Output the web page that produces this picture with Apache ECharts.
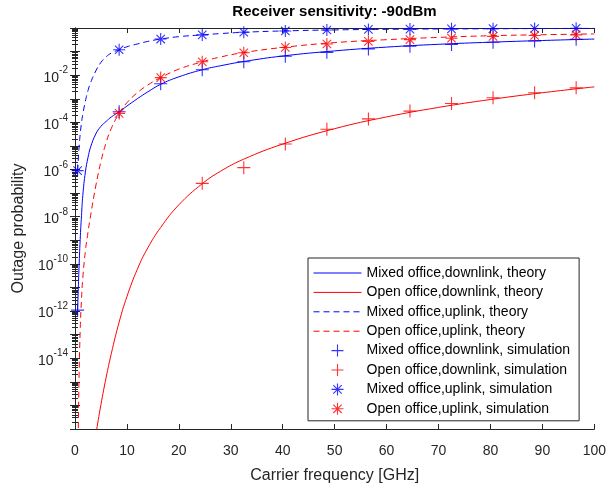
<!DOCTYPE html>
<html><head><meta charset="utf-8">
<script src="https://cdn.jsdelivr.net/npm/echarts@6/dist/echarts.min.js"></script>
<style>html,body{margin:0;padding:0;background:#fff}#c{width:609px;height:489px}</style>
</head><body><div id="c"></div>
<script>
// ---- data ----
const freqTheory = [0.5, 0.75, 1, 1.25, 1.5, 2, 2.5, 3, 4, 5, 6, 7, 8.5, 10, 12, 14, 16.5, 20, 24.5, 28, 32.5, 40, 50, 60, 70, 80, 90, 100];
const mixedDownTheory = [1.0e-12, 5.0e-11, 1.1e-9, 1.1e-8, 7.9e-8, 7.9e-7, 3.2e-6, 8.9e-6, 3.2e-5, 6.8e-5, 1.1e-4, 1.7e-4, 2.8e-4, 4.9e-4, 1.0e-3, 1.95e-3, 4.1e-3, 8.5e-3, 1.7e-2, 2.5e-2, 3.8e-2, 6.5e-2, 0.107, 0.155, 0.204, 0.25, 0.295, 0.34];
const openDownTheory = [null, null, null, null, null, null, null, 2.0e-19, 5.5e-18, 1.1e-16, 1.55e-15, 1.6e-14, 3.4e-13, 4.1e-12, 5.9e-11, 4.7e-10, 3.5e-9, 3.2e-8, 2.5e-7, 8.4e-7, 2.75e-6, 1.2e-5, 5.4e-5, 1.7e-4, 4.3e-4, 9.3e-4, 1.8e-3, 3.2e-3];
const mixedUpTheory = [8.9e-7, 7.1e-6, 3.2e-5, 9.5e-5, 2.2e-4, 7.9e-4, 2.2e-3, 4.8e-3, 1.5e-2, 3.5e-2, 6.0e-2, 8.7e-2, 0.12, 0.16, 0.21, 0.27, 0.34, 0.43, 0.51, 0.58, 0.66, 0.75, 0.83, 0.88, 0.91, 0.93, 0.95, 0.97];
const openUpTheory = [3.2e-20, 6.3e-16, 1.6e-13, 3.2e-12, 2.5e-11, 3.5e-10, 2.2e-9, 1.1e-8, 2.0e-7, 2.2e-6, 1.4e-5, 5.6e-5, 2.4e-4, 6.8e-4, 1.8e-3, 3.8e-3, 7.9e-3, 1.8e-2, 3.7e-2, 5.9e-2, 9.1e-2, 0.15, 0.24, 0.32, 0.40, 0.47, 0.52, 0.56];

const freqSim = [0.5, 8.5, 16.5, 24.5, 32.5, 40.5, 48.5, 56.5, 64.5, 72.5, 80.5, 88.5, 96.5];
const mixedDownSim = [1.1e-12, 2.8e-4, 4.3e-3, 1.7e-2, 3.7e-2, 6.3e-2, 9.3e-2, 0.13, 0.17, 0.20, 0.25, 0.28, 0.33];
const openDownSim = [null, null, null, 2.6e-7, 1.2e-6, 1.2e-5, 5.1e-5, 1.4e-4, 3.0e-4, 6.3e-4, 1.1e-3, 1.8e-3, 2.9e-3];
const mixedUpSim = [9e-7, 0.12, 0.34, 0.51, 0.66, 0.75, 0.82, 0.87, 0.90, 0.92, 0.94, 0.95, 0.97];
const openUpSim = [null, 2.4e-4, 7.9e-3, 3.7e-2, 8.9e-2, 0.15, 0.21, 0.27, 0.32, 0.37, 0.44, 0.48, 0.51];

const xTicks = [0, 10, 20, 30, 40, 50, 60, 70, 80, 90, 100];
const yLabelExponents = [-2, -4, -6, -8, -10, -12, -14];

const seriesNames = [
  'Mixed office,downlink, theory',
  'Open office,downlink, theory',
  'Mixed office,uplink, theory',
  'Open office,uplink, theory',
  'Mixed office,downlink, simulation',
  'Open office,downlink, simulation',
  'Mixed office,uplink, simulation',
  'Open office,uplink, simulation'
];

// ---- chart ----
const FONT = '"Liberation Sans", Arial, Helvetica, sans-serif';
const AX = '#262626';
const BLUE = '#0000ff', RED = '#ff0000';
const zip = (xs, ys) => xs.map((x, i) => [x, ys[i]]);
const plusPath = 'path://M5 0L5 10M0 5L10 5';
const starPath = 'path://M5 0L5 10M0 5L10 5M1.5 1.5L8.5 8.5M1.5 8.5L8.5 1.5';

function theory(name, data, color, dashed) {
  return {
    name, type: 'line', data: zip(freqTheory, data), symbol: 'none', smooth: 0.45,
    lineStyle: { color, width: 1, type: dashed ? [6, 4] : 'solid' }, itemStyle: { color }, z: 2, clip: true
  };
}
function sim(name, data, color, path, size) {
  return {
    name, type: 'scatter', data: zip(freqSim, data), symbol: path, symbolSize: size, symbolKeepAspect: true,
    itemStyle: { color: 'rgba(0,0,0,0)', borderColor: color, borderWidth: 1.1 }, z: 3, clip: false
  };
}

const chart = echarts.init(document.getElementById('c'), null, { renderer: 'canvas' });
const yCommon = {
  type: 'log', logBase: 10, min: 1e-17, max: 1, interval: 1, splitNumber: 17,
  axisLine: { show: true, lineStyle: { color: AX, width: 1 } },
  axisTick: { show: true, inside: true, length: 5, lineStyle: { color: AX } },
  minorTick: { show: true, splitNumber: 9, length: 3, lineStyle: { color: AX } },
  splitLine: { show: false }, minorSplitLine: { show: false }
};
chart.setOption({
  animation: false,
  backgroundColor: '#ffffff',
  textStyle: { fontFamily: FONT },
  title: {
    text: 'Receiver sensitivity: -90dBm', left: 334.5, top: 4, textAlign: 'center', padding: 0,
    textStyle: { fontFamily: FONT, fontSize: 15, fontWeight: 'bold', color: '#000' }
  },
  grid: { left: 75, right: 14.5, top: 28, bottom: 53, show: false },
  xAxis: [{
    type: 'value', min: xTicks[0], max: xTicks[xTicks.length - 1], interval: 10,
    axisLine: { show: true, onZero: false, lineStyle: { color: AX } },
    axisTick: { show: true, inside: true, length: 5, lineStyle: { color: AX } },
    splitLine: { show: false },
    axisLabel: { color: AX, fontSize: 14, fontFamily: FONT, margin: 15 },
    name: 'Carrier frequency [GHz]', nameLocation: 'middle', nameGap: 39,
    nameTextStyle: { color: AX, fontSize: 16, fontFamily: FONT }
  }, {
    type: 'value', position: 'top', min: xTicks[0], max: xTicks[xTicks.length - 1], interval: 10,
    axisLine: { show: true, onZero: false, lineStyle: { color: AX } },
    axisTick: { show: true, inside: true, length: 5, lineStyle: { color: AX } },
    axisLabel: { show: false }, splitLine: { show: false }
  }],
  yAxis: [Object.assign({}, yCommon, {
    axisLabel: {
      margin: 7, color: AX,
      formatter: v => {
        const e = Math.round(Math.log10(v));
        return yLabelExponents.indexOf(e) >= 0 ? '{b|10}{s|' + e + '}' : '';
      },
      rich: {
        b: { fontSize: 14, fontFamily: FONT, color: AX, verticalAlign: 'bottom' },
        s: { fontSize: 10, fontFamily: FONT, color: AX, verticalAlign: 'bottom', padding: [0, 0, 9, 0] }
      }
    },
    name: 'Outage probability', nameLocation: 'middle', nameGap: 48,
    nameTextStyle: { color: AX, fontSize: 16, fontFamily: FONT }
  }), Object.assign({}, yCommon, { position: 'right', axisLabel: { show: false } })],
  legend: {
    orient: 'vertical', left: 308, top: 258,
    data: seriesNames.map((n, i) => i < 4
      ? { name: n, itemStyle: { color: 'rgba(0,0,0,0)', borderColor: 'rgba(0,0,0,0)', borderWidth: 0, opacity: 0 } }
      : { name: n }),
    itemWidth: 48, itemHeight: 12, itemGap: 5.4, padding: [8, 9, 5, 5],
    backgroundColor: '#ffffff', borderColor: AX, borderWidth: 1, borderRadius: 0,
    textStyle: { fontFamily: FONT, fontSize: 14, color: '#000' },
    lineStyle: { width: 1 },
    itemStyle: { borderWidth: 1.1 }, selectedMode: false
  },
  series: [
    theory(seriesNames[0], mixedDownTheory, BLUE, false),
    theory(seriesNames[1], openDownTheory, RED, false),
    theory(seriesNames[2], mixedUpTheory, BLUE, true),
    theory(seriesNames[3], openUpTheory, RED, true),
    sim(seriesNames[4], mixedDownSim, BLUE, plusPath, 13),
    sim(seriesNames[5], openDownSim, RED, plusPath, 13),
    sim(seriesNames[6], mixedUpSim, BLUE, starPath, 12),
    sim(seriesNames[7], openUpSim, RED, starPath, 12)
  ]
});
</script></body></html>
